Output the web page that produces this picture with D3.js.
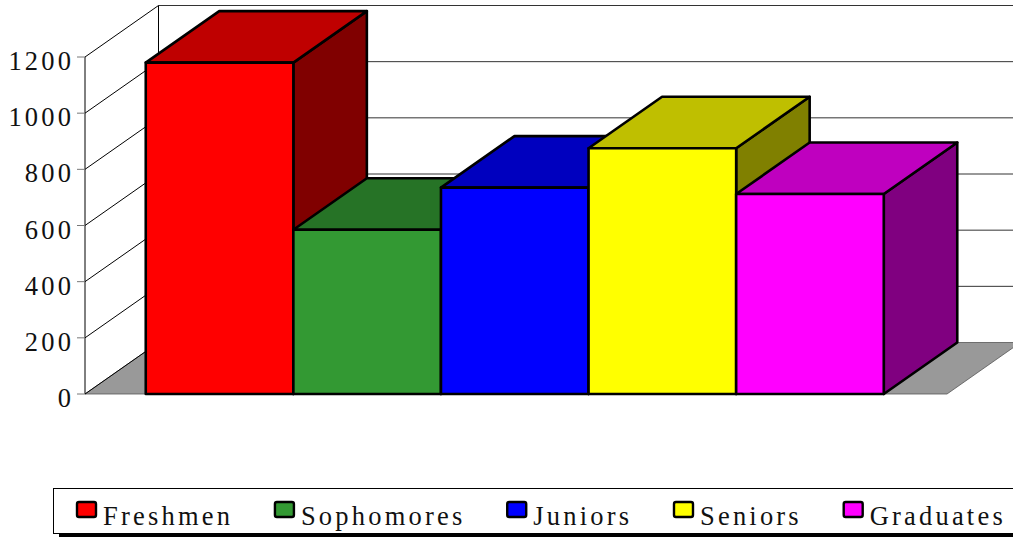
<!DOCTYPE html>
<html>
<head>
<meta charset="utf-8">
<script src="https://cdn.jsdelivr.net/npm/d3@7"></script>
<style>
  html, body { margin: 0; padding: 0; background: #fff; }
  svg { display: block; }
  text { font-family: "Liberation Serif", "Times New Roman", serif; fill: #111; }
</style>
</head>
<body>
<svg id="chart" width="1013" height="537"></svg>
<script>
// Enrollment by class, 3D column chart.
const categories = ["Freshmen", "Sophomores", "Juniors", "Seniors", "Graduates"];
const enrollment = [1180, 585, 735, 875, 712];
const yTicks = [0, 200, 400, 600, 800, 1000, 1200];

const svg = d3.select("#chart");

const xScale = d3.scaleBand()
  .domain(categories)
  .range([85, 947])
  .paddingInner(0)
  .paddingOuter(0.42)
  .align(0.49);
const yScale = d3.scaleLinear().domain([0, 1200]).range([394, 57]);
const colorScale = d3.scaleOrdinal()
  .domain(categories)
  .range(["#ff0000", "#339933", "#0000ff", "#ffff00", "#ff00ff"]);

// depth offset of the 3D box
const dx = 73.5, dy = -51.5;
const [x0, x1] = xScale.range();
const shade = (c, k) => { const r = d3.rgb(c); return d3.rgb(r.r * k, r.g * k, r.b * k).formatHex(); };
const poly = pts => "M" + pts.map(p => p.join(",")).join("L") + "Z";

// walls
svg.append("path")
  .attr("d", poly([[x0 + dx, yScale(1200) + dy], [x1 + dx, yScale(1200) + dy], [x1 + dx, yScale(0) + dy], [x0 + dx, yScale(0) + dy]]))
  .attr("fill", "#fff");

// floor
svg.append("path")
  .attr("d", poly([[x0, yScale(0)], [x1, yScale(0)], [x1 + dx, yScale(0) + dy], [x0 + dx, yScale(0) + dy]]))
  .attr("fill", "#999").attr("stroke", "#555").attr("stroke-width", 0.8);

// gridlines on side and back wall
const grid = svg.append("g");
yTicks.filter(t => t > 0).forEach(t => {
  grid.append("line")
    .attr("x1", x0 + dx).attr("x2", x1 + dx)
    .attr("y1", yScale(t) + dy).attr("y2", yScale(t) + dy)
    .attr("stroke", "#333").attr("stroke-width", 1);
});
yTicks.forEach(t => {
  grid.append("line")
    .attr("x1", x0).attr("x2", x0 + dx)
    .attr("y1", yScale(t)).attr("y2", yScale(t) + dy)
    .attr("stroke", "#000").attr("stroke-width", 1);
});
grid.append("line")
  .attr("x1", x0 + dx).attr("x2", x0 + dx)
  .attr("y1", yScale(1200) + dy).attr("y2", yScale(0) + dy)
  .attr("stroke", "#000");
grid.append("line")
  .attr("x1", x0).attr("x2", x0)
  .attr("y1", yScale(1200)).attr("y2", yScale(0))
  .attr("stroke", "#000");

// y axis ticks + labels
const fs = 26.5, ls = 3.2;
yTicks.forEach(t => {
  svg.append("line")
    .attr("x1", x0 - 8).attr("x2", x0)
    .attr("y1", yScale(t)).attr("y2", yScale(t))
    .attr("stroke", "#777");
  svg.append("text")
    .attr("x", x0 - 14 + ls).attr("y", yScale(t) + 13)
    .attr("text-anchor", "end")
    .attr("font-size", fs)
    .attr("letter-spacing", ls)
    .text(t);
});

// bars, drawn left to right so the later ones cover the earlier side faces
const bars = svg.selectAll(".bar")
  .data(categories.map((c, i) => ({ cat: c, value: enrollment[i] })))
  .enter().append("g").attr("class", "bar");

bars.each(function (d) {
  const g = d3.select(this);
  const l = xScale(d.cat), r = l + xScale.bandwidth();
  const top = yScale(d.value), bot = yScale(0);
  const c = colorScale(d.cat);
  const edge = sel => sel.attr("stroke", "#000").attr("stroke-width", 2.6).attr("stroke-linejoin", "round");
  g.append("path")
    .attr("d", poly([[r, top], [r + dx, top + dy], [r + dx, bot + dy], [r, bot]]))
    .attr("fill", shade(c, 0.5)).call(edge);
  g.append("path")
    .attr("d", poly([[l, top], [l + dx, top + dy], [r + dx, top + dy], [r, top]]))
    .attr("fill", shade(c, 0.75)).call(edge);
  g.append("rect")
    .attr("x", l).attr("y", top)
    .attr("width", r - l).attr("height", bot - top)
    .attr("fill", c).call(edge);
});

// legend
const legend = svg.append("g");
legend.append("rect")
  .attr("x", 59).attr("y", 494).attr("width", 980).attr("height", 45)
  .attr("fill", "#000");
legend.append("rect")
  .attr("x", 53.5).attr("y", 488.5).attr("width", 980).attr("height", 45)
  .attr("fill", "#fff").attr("stroke", "#000").attr("stroke-width", 1);

let lx = 77;
categories.forEach(cat => {
  legend.append("rect")
    .attr("x", lx).attr("y", 502).attr("width", 19).attr("height", 15).attr("rx", 2)
    .attr("fill", colorScale(cat)).attr("stroke", "#000").attr("stroke-width", 2.4);
  const t = legend.append("text")
    .attr("x", lx + 26).attr("y", 525)
    .attr("font-size", fs)
    .attr("letter-spacing", ls)
    .text(cat);
  lx = lx + 26 + t.node().getComputedTextLength() + 45 - ls;
});
</script>
</body>
</html>
